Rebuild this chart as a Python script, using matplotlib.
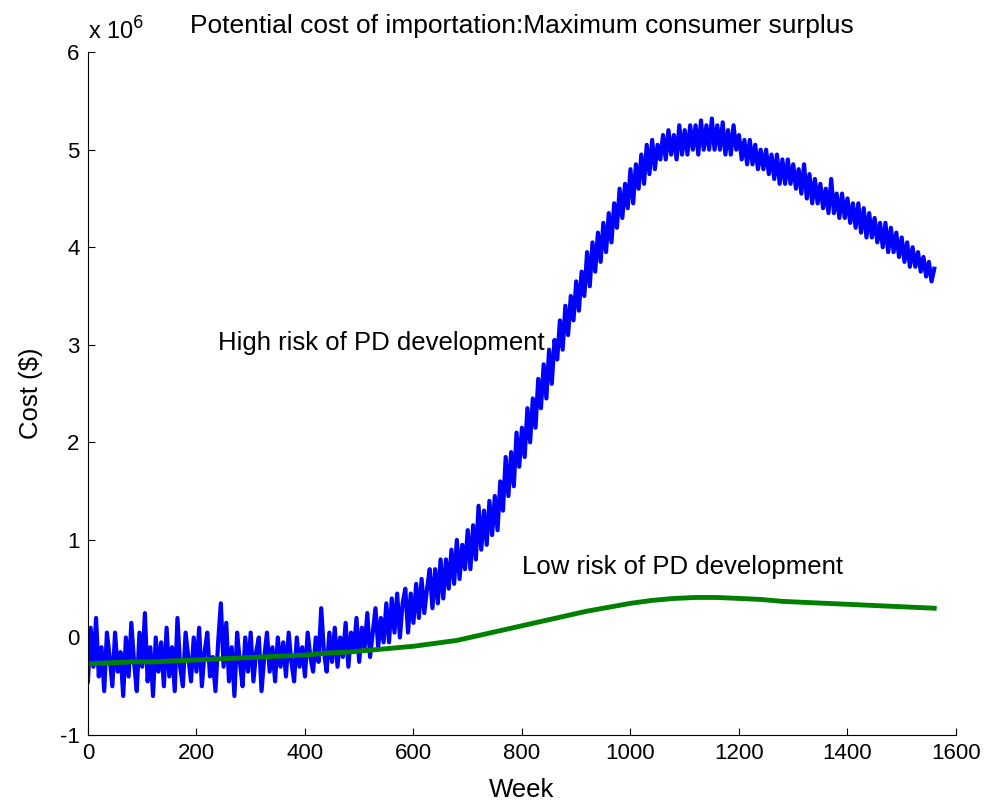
import numpy as np
import matplotlib.pyplot as plt

plt.rcParams['font.family'] = ['Liberation Sans', 'DejaVu Sans']
plt.rcParams['axes.unicode_minus'] = False

# cost in units of 1e6 $, one value every 5 weeks
weeks_high = np.arange(0, 1561, 5)
cost_high = [
    -0.45, 0.10, -0.30, 0.20, -0.40, -0.10, -0.55, 0.05, -0.20, -0.50,
    0.05, -0.35, -0.15, -0.60, 0.00, -0.40, 0.15, -0.25, -0.55, 0.05,
    -0.30, 0.25, -0.45, -0.10, -0.60, 0.00, -0.35, -0.05, -0.50, 0.10,
    -0.40, -0.10, -0.55, 0.20, -0.30, -0.50, 0.05, -0.20, -0.45, 0.00,
    -0.35, 0.10, -0.50, -0.15, 0.05, -0.40, -0.20, -0.55, -0.05, 0.35,
    -0.30, 0.15, -0.45, -0.10, -0.60, 0.05, -0.25, -0.50, 0.00, -0.35,
    0.05, -0.45, -0.15, 0.00, -0.55, -0.20, 0.05, -0.35, -0.10, -0.45,
    0.00, -0.30, -0.05, -0.40, 0.05, -0.25, -0.45, 0.00, -0.30, -0.10,
    -0.40, 0.05, -0.20, -0.35, 0.00, -0.25, 0.30, -0.15, -0.35, 0.05,
    -0.25, 0.10, -0.30, 0.00, -0.20, 0.15, -0.30, 0.05, -0.15, 0.20,
    -0.25, 0.10, -0.10, 0.25, -0.20, 0.05, 0.30, -0.10, 0.20, -0.05,
    0.35, -0.05, 0.40, 0.05, 0.45, 0.00, 0.35, 0.50, 0.05, 0.45,
    0.15, 0.55, 0.20, 0.60, 0.25, 0.50, 0.70, 0.30, 0.70, 0.35,
    0.80, 0.40, 0.80, 0.50, 0.90, 0.55, 1.00, 0.60, 0.95, 0.70,
    1.10, 0.70, 1.15, 0.80, 1.35, 0.90, 1.30, 0.95, 1.40, 1.05,
    1.45, 1.10, 1.60, 1.30, 1.85, 1.45, 1.90, 1.55, 2.10, 1.75,
    2.15, 1.85, 2.35, 2.00, 2.45, 2.15, 2.65, 2.35, 2.80, 2.45,
    2.95, 2.60, 3.05, 2.85, 3.25, 2.95, 3.40, 3.10, 3.50, 3.25,
    3.65, 3.35, 3.75, 3.50, 3.95, 3.60, 4.05, 3.75, 4.15, 3.85,
    4.25, 3.95, 4.35, 4.05, 4.45, 4.20, 4.60, 4.30, 4.65, 4.40,
    4.80, 4.45, 4.85, 4.60, 4.95, 4.65, 5.05, 4.75, 5.10, 4.80,
    5.05, 4.90, 5.15, 4.90, 5.20, 4.95, 5.15, 4.90, 5.25, 4.95,
    5.20, 4.95, 5.25, 5.00, 5.25, 4.95, 5.30, 5.00, 5.25, 5.00,
    5.32, 5.00, 5.25, 5.00, 5.28, 4.95, 5.20, 4.95, 5.25, 5.00,
    5.15, 4.90, 5.10, 4.85, 5.10, 4.85, 5.05, 4.80, 5.00, 4.80,
    5.00, 4.75, 4.95, 4.70, 4.95, 4.65, 4.90, 4.65, 4.90, 4.65,
    4.85, 4.60, 4.80, 4.55, 4.85, 4.50, 4.75, 4.45, 4.70, 4.45,
    4.65, 4.40, 4.60, 4.35, 4.70, 4.35, 4.55, 4.30, 4.55, 4.30,
    4.50, 4.25, 4.45, 4.20, 4.45, 4.15, 4.40, 4.10, 4.35, 4.10,
    4.30, 4.05, 4.25, 4.00, 4.25, 3.95, 4.20, 3.95, 4.15, 3.90,
    4.10, 3.85, 4.05, 3.80, 4.00, 3.80, 3.95, 3.75, 3.90, 3.70,
    3.85, 3.65, 3.78,
]

weeks_low = np.arange(0, 1561, 40)
cost_low = [
    -0.27, -0.26, -0.25, -0.25, -0.24, -0.23, -0.22, -0.21, -0.20, -0.19,
    -0.18, -0.16, -0.15, -0.13, -0.11, -0.09, -0.06, -0.03, 0.02, 0.07,
    0.12, 0.17, 0.22, 0.27, 0.31, 0.35, 0.38, 0.40, 0.41, 0.41,
    0.40, 0.39, 0.37, 0.36, 0.35, 0.34, 0.33, 0.32, 0.31, 0.30,
]

fig = plt.figure(figsize=(9.88, 8.02), dpi=100)
ax = fig.add_axes([0.089, 0.0835, 0.8786, 0.8515])

ax.plot(weeks_high, cost_high, color='#0000ff', lw=3.0)
ax.plot(weeks_low, cost_low, color='#008000', lw=3.5)

ax.set_xlim(0, 1600)
ax.set_ylim(-1, 6)
ax.set_xticks(range(0, 1601, 200))
ax.set_yticks(range(-1, 7))
ax.spines['top'].set_visible(False)
ax.spines['right'].set_visible(False)
ax.tick_params(direction='in', length=5, labelsize=16, pad=6)

ax.set_xlabel('Week', fontsize=18.5, labelpad=10)
ax.set_ylabel('Cost ($)', fontsize=18.5, labelpad=12)
ax.set_title('Potential cost of importation:Maximum consumer surplus',
             fontsize=19, pad=14)
ax.text(0.0, 1.019, r'x 10$^6$', transform=ax.transAxes, fontsize=17,
        ha='left', va='baseline')

ax.text(240, 3.02, 'High risk of PD development', fontsize=18.5, va='center')
ax.text(800, 0.72, 'Low risk of PD development', fontsize=18.5, va='center')

fig.savefig('out.png', dpi=100)
